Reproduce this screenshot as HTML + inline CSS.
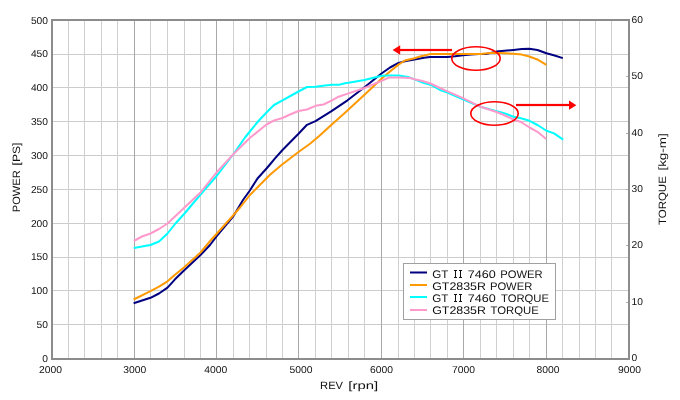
<!DOCTYPE html><html><head><meta charset="utf-8"><style>html,body{margin:0;padding:0;background:#fff;width:680px;height:400px;overflow:hidden}svg{display:block;will-change:transform;text-rendering:geometricPrecision}</style></head><body>
<svg width="680" height="400" viewBox="0 0 680 400">
<rect width="680" height="400" fill="#fff"/>
<rect x="53" y="54" width="575" height="1" fill="#cccccc"/><rect x="53" y="87" width="575" height="1" fill="#cccccc"/><rect x="53" y="121" width="575" height="1" fill="#cccccc"/><rect x="53" y="155" width="575" height="1" fill="#cccccc"/><rect x="53" y="189" width="575" height="1" fill="#cccccc"/><rect x="53" y="223" width="575" height="1" fill="#cccccc"/><rect x="53" y="257" width="575" height="1" fill="#cccccc"/><rect x="53" y="290" width="575" height="1" fill="#cccccc"/><rect x="53" y="324" width="575" height="1" fill="#cccccc"/><rect x="68" y="21" width="1" height="337" fill="#d0d0d0"/><rect x="84" y="21" width="1" height="337" fill="#d0d0d0"/><rect x="101" y="21" width="1" height="337" fill="#d0d0d0"/><rect x="117" y="21" width="1" height="337" fill="#d0d0d0"/><rect x="134" y="21" width="1" height="337" fill="#a8a8a8"/><rect x="150" y="21" width="1" height="337" fill="#d0d0d0"/><rect x="167" y="21" width="1" height="337" fill="#d0d0d0"/><rect x="184" y="21" width="1" height="337" fill="#d0d0d0"/><rect x="200" y="21" width="1" height="337" fill="#d0d0d0"/><rect x="216" y="21" width="1" height="337" fill="#a8a8a8"/><rect x="233" y="21" width="1" height="337" fill="#d0d0d0"/><rect x="249" y="21" width="1" height="337" fill="#d0d0d0"/><rect x="266" y="21" width="1" height="337" fill="#d0d0d0"/><rect x="282" y="21" width="1" height="337" fill="#d0d0d0"/><rect x="298" y="21" width="1" height="337" fill="#a8a8a8"/><rect x="315" y="21" width="1" height="337" fill="#d0d0d0"/><rect x="331" y="21" width="1" height="337" fill="#d0d0d0"/><rect x="348" y="21" width="1" height="337" fill="#d0d0d0"/><rect x="364" y="21" width="1" height="337" fill="#d0d0d0"/><rect x="381" y="21" width="1" height="337" fill="#a8a8a8"/><rect x="398" y="21" width="1" height="337" fill="#d0d0d0"/><rect x="414" y="21" width="1" height="337" fill="#d0d0d0"/><rect x="430" y="21" width="1" height="337" fill="#d0d0d0"/><rect x="447" y="21" width="1" height="337" fill="#d0d0d0"/><rect x="463" y="21" width="1" height="337" fill="#a8a8a8"/><rect x="480" y="21" width="1" height="337" fill="#d0d0d0"/><rect x="496" y="21" width="1" height="337" fill="#d0d0d0"/><rect x="513" y="21" width="1" height="337" fill="#d0d0d0"/><rect x="529" y="21" width="1" height="337" fill="#d0d0d0"/><rect x="546" y="21" width="1" height="337" fill="#a8a8a8"/><rect x="562" y="21" width="1" height="337" fill="#d0d0d0"/><rect x="579" y="21" width="1" height="337" fill="#d0d0d0"/><rect x="595" y="21" width="1" height="337" fill="#d0d0d0"/><rect x="611" y="21" width="1" height="337" fill="#d0d0d0"/>
<rect x="626" y="302" width="2" height="1" fill="#b0b0b0"/>
<rect x="626" y="245" width="2" height="1" fill="#b0b0b0"/>
<rect x="626" y="189" width="2" height="1" fill="#b0b0b0"/>
<rect x="626" y="133" width="2" height="1" fill="#b0b0b0"/>
<rect x="626" y="76" width="2" height="1" fill="#b0b0b0"/>
<rect x="52" y="20" width="577" height="339" fill="none" stroke="#8c8c8c" stroke-width="2"/>
<polyline points="133.60,303.20 150.50,297.80 159.00,293.50 167.50,287.70 175.00,279.30 184.50,270.00 200.50,255.00 210.00,245.00 216.50,236.30 233.50,216.00 243.00,200.00 249.50,191.00 257.50,178.50 266.50,168.50 269.50,165.00 275.00,158.30 282.50,150.00 298.50,133.80 307.00,124.80 315.50,121.20 331.50,111.20 347.50,100.30 364.50,87.20 381.50,73.50 390.00,67.50 398.50,62.90 406.00,61.00 414.50,59.50 424.00,57.70 430.00,57.10 447.50,56.90 455.00,56.30 463.00,55.30 471.00,54.40 479.00,54.00 486.00,54.00 496.40,51.60 507.00,50.50 513.50,49.90 521.75,49.00 529.25,48.80 537.50,50.00 546.40,53.30 553.75,55.20 562.80,58.10" fill="none" stroke="#000080" stroke-width="2" stroke-linejoin="round" stroke-linecap="butt"/>
<polyline points="133.60,299.50 150.50,291.20 159.00,286.60 167.50,281.30 175.00,274.70 184.50,267.00 200.50,252.50 211.00,240.00 216.50,234.00 233.50,215.00 240.00,207.50 246.00,200.00 249.50,195.50 266.50,178.30 270.00,174.80 281.50,165.00 298.50,152.00 310.00,143.70 319.50,135.70 331.50,124.70 345.00,112.70 358.50,100.20 364.50,94.70 381.50,78.70 390.00,71.50 398.50,64.60 405.00,60.50 414.50,58.20 420.00,56.50 430.00,54.10 447.50,54.00 465.00,54.00 480.50,54.00 490.00,53.00 496.40,52.90 500.00,53.00 513.50,53.70 521.75,54.60 529.25,56.50 538.00,59.80 546.40,64.80" fill="none" stroke="#ff9900" stroke-width="2" stroke-linejoin="round" stroke-linecap="butt"/>
<polyline points="133.80,248.00 142.00,246.50 150.50,245.00 159.00,241.50 167.50,233.50 175.00,224.00 184.50,213.50 200.50,194.50 217.00,175.50 233.50,154.00 245.00,137.50 249.50,132.00 258.00,121.50 266.50,112.50 274.00,105.00 282.50,100.30 298.50,91.50 307.00,87.00 315.50,86.80 325.00,85.50 331.50,84.80 339.25,84.80 346.00,83.00 348.50,82.80 364.50,80.00 381.50,75.80 390.00,75.40 398.50,75.60 408.00,76.90 414.50,79.40 422.50,82.50 431.00,85.00 440.00,90.00 447.50,92.50 463.50,99.50 480.50,106.80 496.50,111.20 505.00,113.50 513.50,116.80 520.00,118.00 529.50,120.80 537.50,125.00 546.50,130.75 554.00,133.40 563.20,139.70" fill="none" stroke="#00ffff" stroke-width="2" stroke-linejoin="round" stroke-linecap="butt"/>
<polyline points="133.80,241.00 142.00,236.50 150.50,233.50 159.00,229.00 167.50,223.50 175.00,216.50 184.50,207.50 200.50,192.50 216.50,172.50 233.50,154.00 249.50,138.30 266.50,124.50 274.00,120.50 282.50,118.00 290.00,114.50 298.50,111.00 307.00,109.50 315.50,105.80 323.50,104.50 331.50,100.60 338.60,96.70 348.50,93.40 364.50,88.00 381.50,80.80 389.00,77.50 398.50,77.40 410.00,78.00 414.50,79.20 422.50,81.00 430.50,83.50 440.00,88.00 447.50,91.30 463.50,98.30 480.50,106.80 496.50,112.00 505.00,115.50 513.50,119.50 521.00,122.00 529.50,127.50 537.50,131.80 546.10,139.00" fill="none" stroke="#ff99cc" stroke-width="2" stroke-linejoin="round" stroke-linecap="butt"/>
<g fill="#ff0000" stroke="none">
<rect x="400" y="48.9" width="52" height="2.2"/>
<polygon points="392.6,50 400.2,45.2 400.2,54.8"/>
<rect x="516" y="103.9" width="53.2" height="2.2"/>
<polygon points="576.4,105.2 569,100.6 569,109.8"/>
</g>
<ellipse cx="476" cy="58.5" rx="24.2" ry="11.7" fill="none" stroke="#ff0000" stroke-width="1.6"/>
<ellipse cx="494.5" cy="113.5" rx="23.7" ry="11.7" fill="none" stroke="#ff0000" stroke-width="1.6"/>
<rect x="403.5" y="263.5" width="152" height="56" fill="#fff" stroke="#a0a0a0" stroke-width="1"/>
<rect x="410" y="271.5" width="17" height="2" fill="#000080"/>
<text x="432.20" y="277.90" font-family="Liberation Sans, sans-serif" font-size="11" fill="#111" textLength="16.10" lengthAdjust="spacingAndGlyphs">GT</text>
<path d="M455 270h1v8h-1z M454 270h3v1h-3z M454 277h3v1h-3z" fill="#111"/>
<path d="M460 270h1v8h-1z M459 270h3v1h-3z M459 277h3v1h-3z" fill="#111"/>
<text x="467.70" y="277.90" font-family="Liberation Sans, sans-serif" font-size="11" fill="#111" textLength="28.00" lengthAdjust="spacingAndGlyphs">7460</text>
<text x="500.30" y="277.90" font-family="Liberation Sans, sans-serif" font-size="11" fill="#111" textLength="42.40" lengthAdjust="spacingAndGlyphs">POWER</text>
<rect x="410" y="284.0" width="17" height="2" fill="#ff9900"/>
<text x="432.20" y="290.00" font-family="Liberation Sans, sans-serif" font-size="11" fill="#111" textLength="53.80" lengthAdjust="spacingAndGlyphs">GT2835R</text>
<text x="489.90" y="290.00" font-family="Liberation Sans, sans-serif" font-size="11" fill="#111" textLength="42.40" lengthAdjust="spacingAndGlyphs">POWER</text>
<rect x="410" y="296.0" width="17" height="2" fill="#00ffff"/>
<text x="432.20" y="301.60" font-family="Liberation Sans, sans-serif" font-size="11" fill="#111" textLength="16.10" lengthAdjust="spacingAndGlyphs">GT</text>
<path d="M455 294h1v8h-1z M454 294h3v1h-3z M454 301h3v1h-3z" fill="#111"/>
<path d="M460 294h1v8h-1z M459 294h3v1h-3z M459 301h3v1h-3z" fill="#111"/>
<text x="467.70" y="301.60" font-family="Liberation Sans, sans-serif" font-size="11" fill="#111" textLength="28.00" lengthAdjust="spacingAndGlyphs">7460</text>
<text x="501.00" y="301.60" font-family="Liberation Sans, sans-serif" font-size="11" fill="#111" textLength="48.00" lengthAdjust="spacingAndGlyphs">TORQUE</text>
<rect x="410" y="309.0" width="17" height="2" fill="#ff99cc"/>
<text x="432.20" y="313.60" font-family="Liberation Sans, sans-serif" font-size="11" fill="#111" textLength="53.80" lengthAdjust="spacingAndGlyphs">GT2835R</text>
<text x="490.60" y="313.60" font-family="Liberation Sans, sans-serif" font-size="11" fill="#111" textLength="48.20" lengthAdjust="spacingAndGlyphs">TORQUE</text>
<text x="48.00" y="23.50" font-family="Liberation Sans, sans-serif" font-size="10" fill="#111" textLength="17.10" lengthAdjust="spacingAndGlyphs" text-anchor="end">500</text>
<text x="48.00" y="57.34" font-family="Liberation Sans, sans-serif" font-size="10" fill="#111" textLength="17.10" lengthAdjust="spacingAndGlyphs" text-anchor="end">450</text>
<text x="48.00" y="91.18" font-family="Liberation Sans, sans-serif" font-size="10" fill="#111" textLength="17.10" lengthAdjust="spacingAndGlyphs" text-anchor="end">400</text>
<text x="48.00" y="125.02" font-family="Liberation Sans, sans-serif" font-size="10" fill="#111" textLength="17.10" lengthAdjust="spacingAndGlyphs" text-anchor="end">350</text>
<text x="48.00" y="158.86" font-family="Liberation Sans, sans-serif" font-size="10" fill="#111" textLength="17.10" lengthAdjust="spacingAndGlyphs" text-anchor="end">300</text>
<text x="48.00" y="192.70" font-family="Liberation Sans, sans-serif" font-size="10" fill="#111" textLength="17.10" lengthAdjust="spacingAndGlyphs" text-anchor="end">250</text>
<text x="48.00" y="226.54" font-family="Liberation Sans, sans-serif" font-size="10" fill="#111" textLength="17.10" lengthAdjust="spacingAndGlyphs" text-anchor="end">200</text>
<text x="48.00" y="260.38" font-family="Liberation Sans, sans-serif" font-size="10" fill="#111" textLength="17.10" lengthAdjust="spacingAndGlyphs" text-anchor="end">150</text>
<text x="48.00" y="294.22" font-family="Liberation Sans, sans-serif" font-size="10" fill="#111" textLength="17.10" lengthAdjust="spacingAndGlyphs" text-anchor="end">100</text>
<text x="48.00" y="328.06" font-family="Liberation Sans, sans-serif" font-size="10" fill="#111" textLength="11.40" lengthAdjust="spacingAndGlyphs" text-anchor="end">50</text>
<text x="48.00" y="361.90" font-family="Liberation Sans, sans-serif" font-size="10" fill="#111" textLength="5.70" lengthAdjust="spacingAndGlyphs" text-anchor="end">0</text>
<text x="631.60" y="22.80" font-family="Liberation Sans, sans-serif" font-size="10" fill="#111" textLength="11.40" lengthAdjust="spacingAndGlyphs">60</text>
<text x="631.60" y="78.80" font-family="Liberation Sans, sans-serif" font-size="10" fill="#111" textLength="11.40" lengthAdjust="spacingAndGlyphs">50</text>
<text x="631.60" y="135.80" font-family="Liberation Sans, sans-serif" font-size="10" fill="#111" textLength="11.40" lengthAdjust="spacingAndGlyphs">40</text>
<text x="631.60" y="191.80" font-family="Liberation Sans, sans-serif" font-size="10" fill="#111" textLength="11.40" lengthAdjust="spacingAndGlyphs">30</text>
<text x="631.60" y="247.80" font-family="Liberation Sans, sans-serif" font-size="10" fill="#111" textLength="11.40" lengthAdjust="spacingAndGlyphs">20</text>
<text x="631.60" y="304.80" font-family="Liberation Sans, sans-serif" font-size="10" fill="#111" textLength="11.40" lengthAdjust="spacingAndGlyphs">10</text>
<text x="631.60" y="360.80" font-family="Liberation Sans, sans-serif" font-size="10" fill="#111" textLength="5.70" lengthAdjust="spacingAndGlyphs">0</text>
<text x="38.90" y="373.00" font-family="Liberation Sans, sans-serif" font-size="10" fill="#111" textLength="23.00" lengthAdjust="spacingAndGlyphs">2000</text>
<text x="123.30" y="373.00" font-family="Liberation Sans, sans-serif" font-size="10" fill="#111" textLength="23.00" lengthAdjust="spacingAndGlyphs">3000</text>
<text x="204.30" y="373.00" font-family="Liberation Sans, sans-serif" font-size="10" fill="#111" textLength="23.00" lengthAdjust="spacingAndGlyphs">4000</text>
<text x="289.40" y="373.00" font-family="Liberation Sans, sans-serif" font-size="10" fill="#111" textLength="23.00" lengthAdjust="spacingAndGlyphs">5000</text>
<text x="370.00" y="373.00" font-family="Liberation Sans, sans-serif" font-size="10" fill="#111" textLength="23.00" lengthAdjust="spacingAndGlyphs">6000</text>
<text x="452.10" y="373.00" font-family="Liberation Sans, sans-serif" font-size="10" fill="#111" textLength="23.00" lengthAdjust="spacingAndGlyphs">7000</text>
<text x="536.50" y="373.00" font-family="Liberation Sans, sans-serif" font-size="10" fill="#111" textLength="23.00" lengthAdjust="spacingAndGlyphs">8000</text>
<text x="618.10" y="373.00" font-family="Liberation Sans, sans-serif" font-size="10" fill="#111" textLength="23.00" lengthAdjust="spacingAndGlyphs">9000</text>
<text x="320.10" y="388.80" font-family="Liberation Sans, sans-serif" font-size="10.6" fill="#111" textLength="23.00" lengthAdjust="spacingAndGlyphs">REV</text>
<text x="348.30" y="388.80" font-family="Liberation Sans, sans-serif" font-size="10.6" fill="#111" textLength="29.80" lengthAdjust="spacingAndGlyphs">[rpn]</text>
<g transform="translate(19.9,0) rotate(-90)"><text x="-212.20" y="0.00" font-family="Liberation Sans, sans-serif" font-size="10.6" fill="#111" textLength="41.90" lengthAdjust="spacingAndGlyphs">POWER</text><text x="-165.50" y="0.00" font-family="Liberation Sans, sans-serif" font-size="10.6" fill="#111" textLength="23.00" lengthAdjust="spacingAndGlyphs">[PS]</text></g>
<g transform="translate(666.4,0) rotate(-90)"><text x="-225.10" y="0.00" font-family="Liberation Sans, sans-serif" font-size="10.6" fill="#111" textLength="48.90" lengthAdjust="spacingAndGlyphs">TORQUE</text><text x="-170.60" y="0.00" font-family="Liberation Sans, sans-serif" font-size="10.6" fill="#111" textLength="37.35" lengthAdjust="spacingAndGlyphs">[kg-m]</text></g>
</svg></body></html>
